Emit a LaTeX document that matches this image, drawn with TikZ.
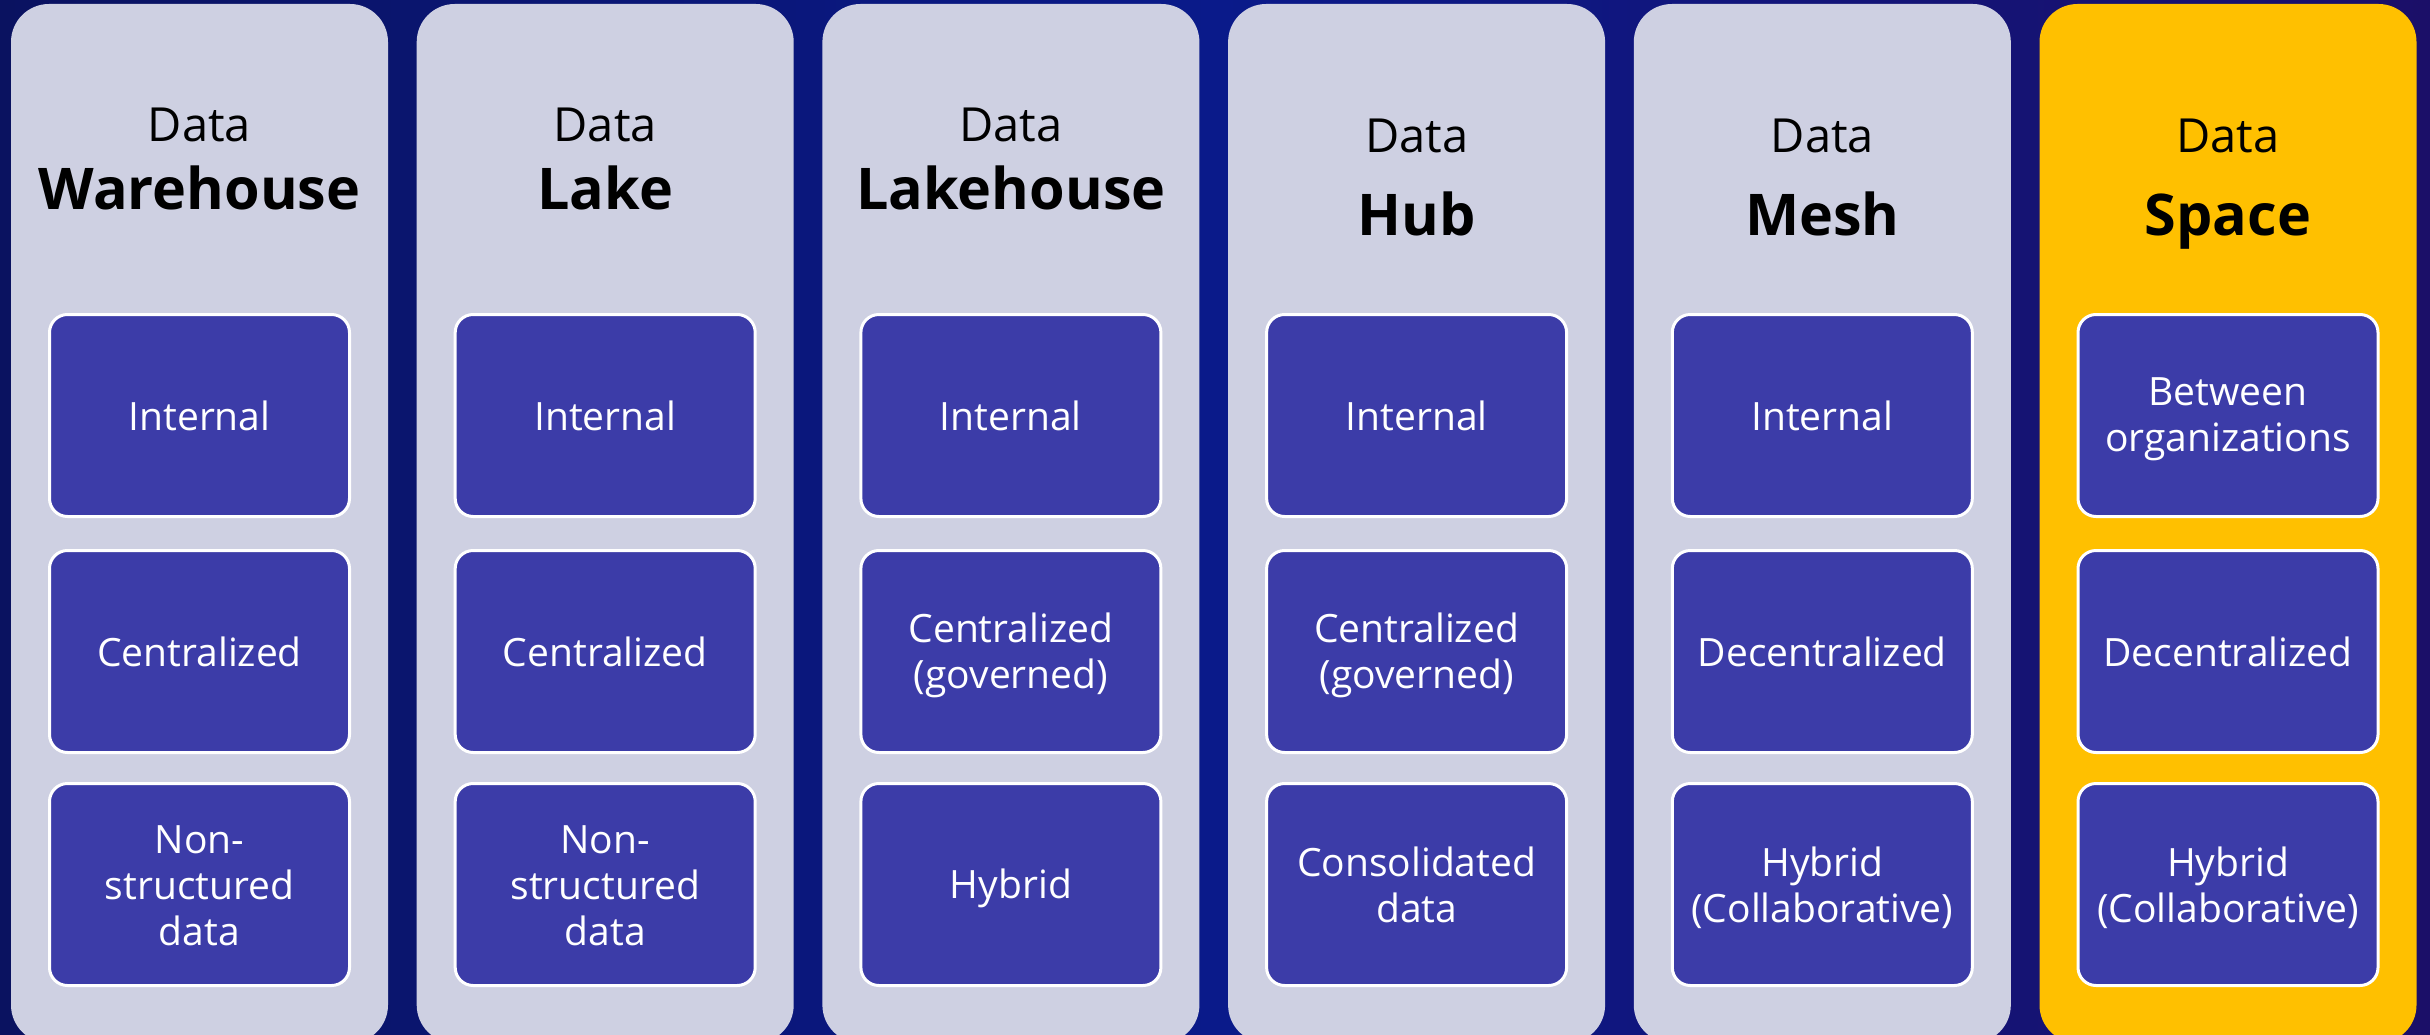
\documentclass[tikz,border=0pt]{standalone}
\usepackage{fontspec}
\setmainfont{Open Sans}
\definecolor{bgl}{HTML}{0A1260}
\definecolor{bgm}{HTML}{0A1A8A}
\definecolor{bgr}{HTML}{1B0F68}
\definecolor{colgray}{HTML}{CED0E2}
\definecolor{colyel}{HTML}{FFC000}
\definecolor{cellblue}{HTML}{3C3CA8}
\newcommand\cellstrut{\rule[-8pt]{0pt}{45pt}}
\tikzset{
  colbox/.style={minimum width=377pt, minimum height=1039pt, rounded corners=38pt, inner sep=0pt, fill=colgray},
  cell/.style={minimum width=300pt, minimum height=202pt, rounded corners=18pt, draw=white, line width=3pt,
     fill=cellblue, inner sep=0pt},
  celltext/.style={text=white, align=center, inner sep=0pt, font=\fontsize{39}{46}\selectfont,
     execute at begin node=\cellstrut, execute at end node=\cellstrut},
  hsmall/.style={anchor=base, inner sep=0pt, font=\fontsize{47}{56}\selectfont},
  hbig/.style={anchor=base, inner sep=0pt, font=\fontsize{57.5}{70}\selectfont\bfseries},
}
\begin{document}
\begin{tikzpicture}[x=1pt,y=-1pt]
\useasboundingbox (0,0) rectangle (2430,1035);
\shade[left color=bgl, right color=bgr, middle color=bgm] (0,0) rectangle (2430,1035);
% columns
\foreach \i/\c in {0/colgray,1/colgray,2/colgray,3/colgray,4/colgray,5/colyel}{
  \node[colbox, fill=\c] (col\i) at ({199.5+\i*405.7}, 523.5) {};
}
% headers
\node[hsmall] (h0a) at (199.5,142) {Data};
\node[hbig]   (h0b) at (199.5,210) {Warehouse};
\node[hsmall] (h1a) at (605.2,142) {Data};
\node[hbig]   (h1b) at (605.2,210) {Lake};
\node[hsmall] (h2a) at (1010.9,142) {Data};
\node[hbig]   (h2b) at (1010.9,210) {Lakehouse};
\node[hsmall] (h3a) at (1416.6,153) {Data};
\node[hbig]   (h3b) at (1416.6,236) {Hub};
\node[hsmall] (h4a) at (1822.3,153) {Data};
\node[hbig]   (h4b) at (1822.3,236) {Mesh};
\node[hsmall] (h5a) at (2228.0,153) {Data};
\node[hbig]   (h5b) at (2228.0,236) {Space};
% cells: column / row / centre y / text / text offset
\foreach \i/\r/\y/\t/\s in {
  0/a/415.5/Internal/0, 0/b/651.5/Centralized/0, 0/c/884.5/{Non-\\structured\\data}/5,
  1/a/415.5/Internal/0, 1/b/651.5/Centralized/0, 1/c/884.5/{Non-\\structured\\data}/5,
  2/a/415.5/Internal/0, 2/b/651.5/{Centralized\\(governed)}/4, 2/c/884.5/Hybrid/0,
  3/a/415.5/Internal/0, 3/b/651.5/{Centralized\\(governed)}/4, 3/c/884.5/{Consolidated\\data}/4,
  4/a/415.5/Internal/0, 4/b/651.5/Decentralized/0, 4/c/884.5/{Hybrid\\(Collaborative)}/4,
  5/a/415.5/{Between\\organizations}/4, 5/b/651.5/Decentralized/0, 5/c/884.5/{Hybrid\\(Collaborative)}/4}{
  \node[cell] (r\i\r) at ({199.5+\i*405.7}, \y) {};
  \node[celltext] (t\i\r) at ({199.5+\i*405.7}, \y+\s) {\t};
}
\end{tikzpicture}
\end{document}
